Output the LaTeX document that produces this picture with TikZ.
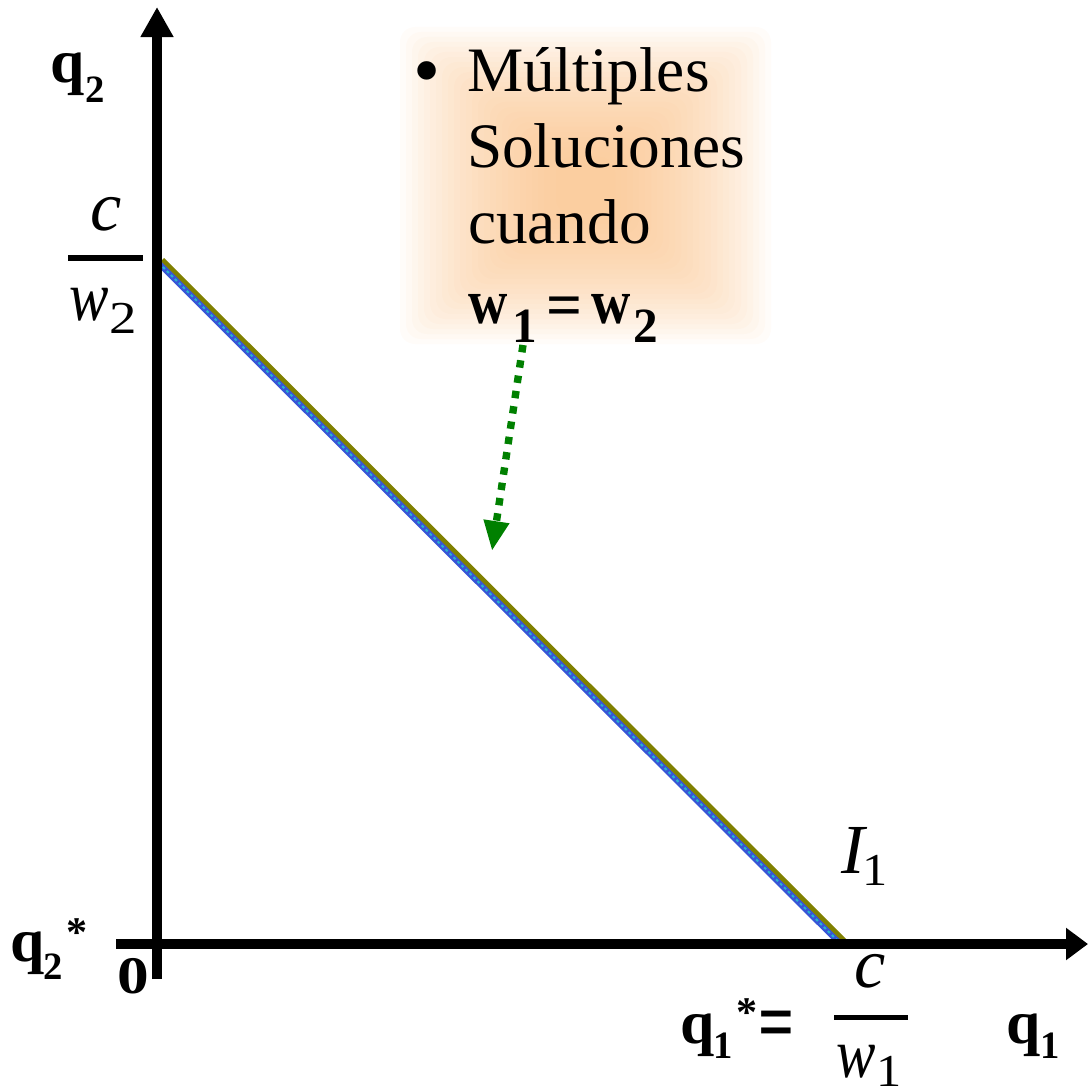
\documentclass[tikz,border=0pt]{standalone}
\usepackage{fontspec}
\setmainfont{Liberation Serif}
\usepackage{graphicx}
\usetikzlibrary{arrows.meta,calc}
\definecolor{olivel}{RGB}{128,128,0}
\definecolor{bluel}{RGB}{55,85,215}
\definecolor{cyanl}{RGB}{40,180,205}
\definecolor{greena}{RGB}{0,128,0}
\definecolor{glowc}{RGB}{250,190,130}
\begin{document}
\begin{tikzpicture}[x=0.01cm,y=-0.01cm,
  lbl/.style={anchor=base west, inner sep=0pt, outer sep=0pt},
  txt/.style={font=\fontsize{18}{22}\selectfont},
  txtb/.style={font=\fontsize{18}{22}\selectfont\bfseries},
  txtsub/.style={font=\fontsize{14}{17}\selectfont\bfseries},
  lab/.style={font=\fontsize{17.5}{21}\selectfont\bfseries},
  labsub/.style={font=\fontsize{11}{13}\selectfont\bfseries},
  star/.style={font=\fontsize{12}{14}\selectfont\bfseries},
  zerob/.style={font=\fontsize{15}{18}\selectfont\bfseries},
  mathf/.style={font=\fontsize{20}{24}\selectfont\itshape},
  mathsub/.style={font=\fontsize{13}{16}\selectfont},
  axis/.style={line width=0.1cm},
  fracbar/.style={line width=0.05cm},
  glowlayer/.style={fill=glowc, fill opacity=0.05, rounded corners=0.15cm}]
\useasboundingbox (0,0) rectangle (1088,1091);

% orange soft glow behind the note
\foreach \i in {0,...,26} {
  \path[glowlayer] (400+6*\i, 27+5*\i) rectangle (771-6*\i, 344-5*\i);
}

% budget line I1
\coordinate (bA) at (160,262);
\coordinate (bB) at (843,944);
\draw[bluel, line width=0.065cm] ($(bA)+(-1.06,1.06)$) -- ($(bB)+(-1.06,1.06)$);
\draw[cyanl, line width=0.02cm, dash pattern=on 0.8pt off 0.8pt] ($(bA)+(-1.06,1.06)$) -- ($(bB)+(-1.06,1.06)$);
\draw[olivel, line width=0.045cm] ($(bA)+(2.47,-2.47)$) -- ($(bB)+(2.47,-2.47)$);

% axes
\coordinate (ybot) at (157,979);
\coordinate (ytop) at (157,7);
\coordinate (xleft) at (116,944);
\coordinate (xright) at (1088,944);
\draw[axis, -{Triangle[length=0.3cm,width=0.31cm]}] (ybot) -- (ytop);
\draw[axis, -{Triangle[length=0.22cm,width=0.31cm]}] (xleft) -- (xright);

% note text
\node[lbl,font=\fontsize{22}{26}\selectfont] (bul) at (413,97) {•};
\node[lbl,txt] (l1) at (467,92) {Múltiples};
\node[lbl,txt] (l2) at (467,168) {Soluciones};
\node[lbl,txt] (l3) at (468,243) {cuando};
\node[lbl,txtb] (l4a) at (468,323) {\scalebox{0.86}[1]{w}};
\node[lbl,txtsub] (l4b) at (512,342) {1};
\node[lbl,txtb] (l4c) at (546,326) {=};
\node[lbl,txtb] (l4d) at (591,323) {\scalebox{0.86}[1]{w}};
\node[lbl,txtsub] (l4e) at (633,342) {2};

% green dotted arrow
\coordinate (gs) at (523,345);
\coordinate (ge) at (492,551);
\draw[greena, line width=2.1pt, dash pattern=on 2.1pt off 2.3pt, -{Triangle[length=0.3cm,width=0.24cm]}] (gs) -- (ge);

% q2 axis label
\node[lbl,lab] (q2a) at (50,83) {q};
\node[lbl,labsub] (q2b) at (85,103) {2};

% c / w2
\node[anchor=base, inner sep=0pt, mathf] (c2) at (106,230) {c};
\coordinate (f2l) at (68,258);
\coordinate (f2r) at (143,258);
\draw[fracbar] (f2l) -- (f2r);
\node[lbl,mathf] (w2a) at (69,320) {\scalebox{0.84}[1]{w}};
\node[lbl,mathsub] (w2b) at (109,333) {\scalebox{1.2}[1]{2}};

% q2*
\node[lbl,lab] (q2sa) at (10,961) {q};
\node[lbl,labsub] (q2sb) at (44,979) {2};
\node[lbl,star] (q2sc) at (66,946) {*};

% 0
\node[lbl,zerob] (zero) at (117,993) {\scalebox{1.2}[1]{0}};

% I1
\node[lbl,mathf] (I1a) at (841,873) {I};
\node[lbl,mathsub] (I1b) at (862,885) {\scalebox{1.1}[1]{1}};

% q1* = c / w1
\node[lbl,lab] (q1sa) at (680,1043) {q};
\node[lbl,labsub] (q1sb) at (713,1058) {1};
\node[lbl,star] (q1sc) at (736,1026) {*};
\node[lbl,font=\fontsize{20}{24}\selectfont\bfseries] (q1sd) at (758,1050) {\scalebox{0.9}[1.2]{=}};
\node[anchor=base, inner sep=0pt, mathf] (c1) at (870,987) {c};
\coordinate (f1l) at (834,1017);
\coordinate (f1r) at (908,1017);
\draw[fracbar] (f1l) -- (f1r);
\node[lbl,mathf] (w1a) at (836,1077) {\scalebox{0.84}[1]{w}};
\node[lbl,mathsub] (w1b) at (876,1086) {\scalebox{1.1}[1]{1}};

% q1 axis label
\node[lbl,lab] (q1a) at (1006,1043) {q};
\node[lbl,labsub] (q1b) at (1040,1058) {1};
\end{tikzpicture}
\end{document}
